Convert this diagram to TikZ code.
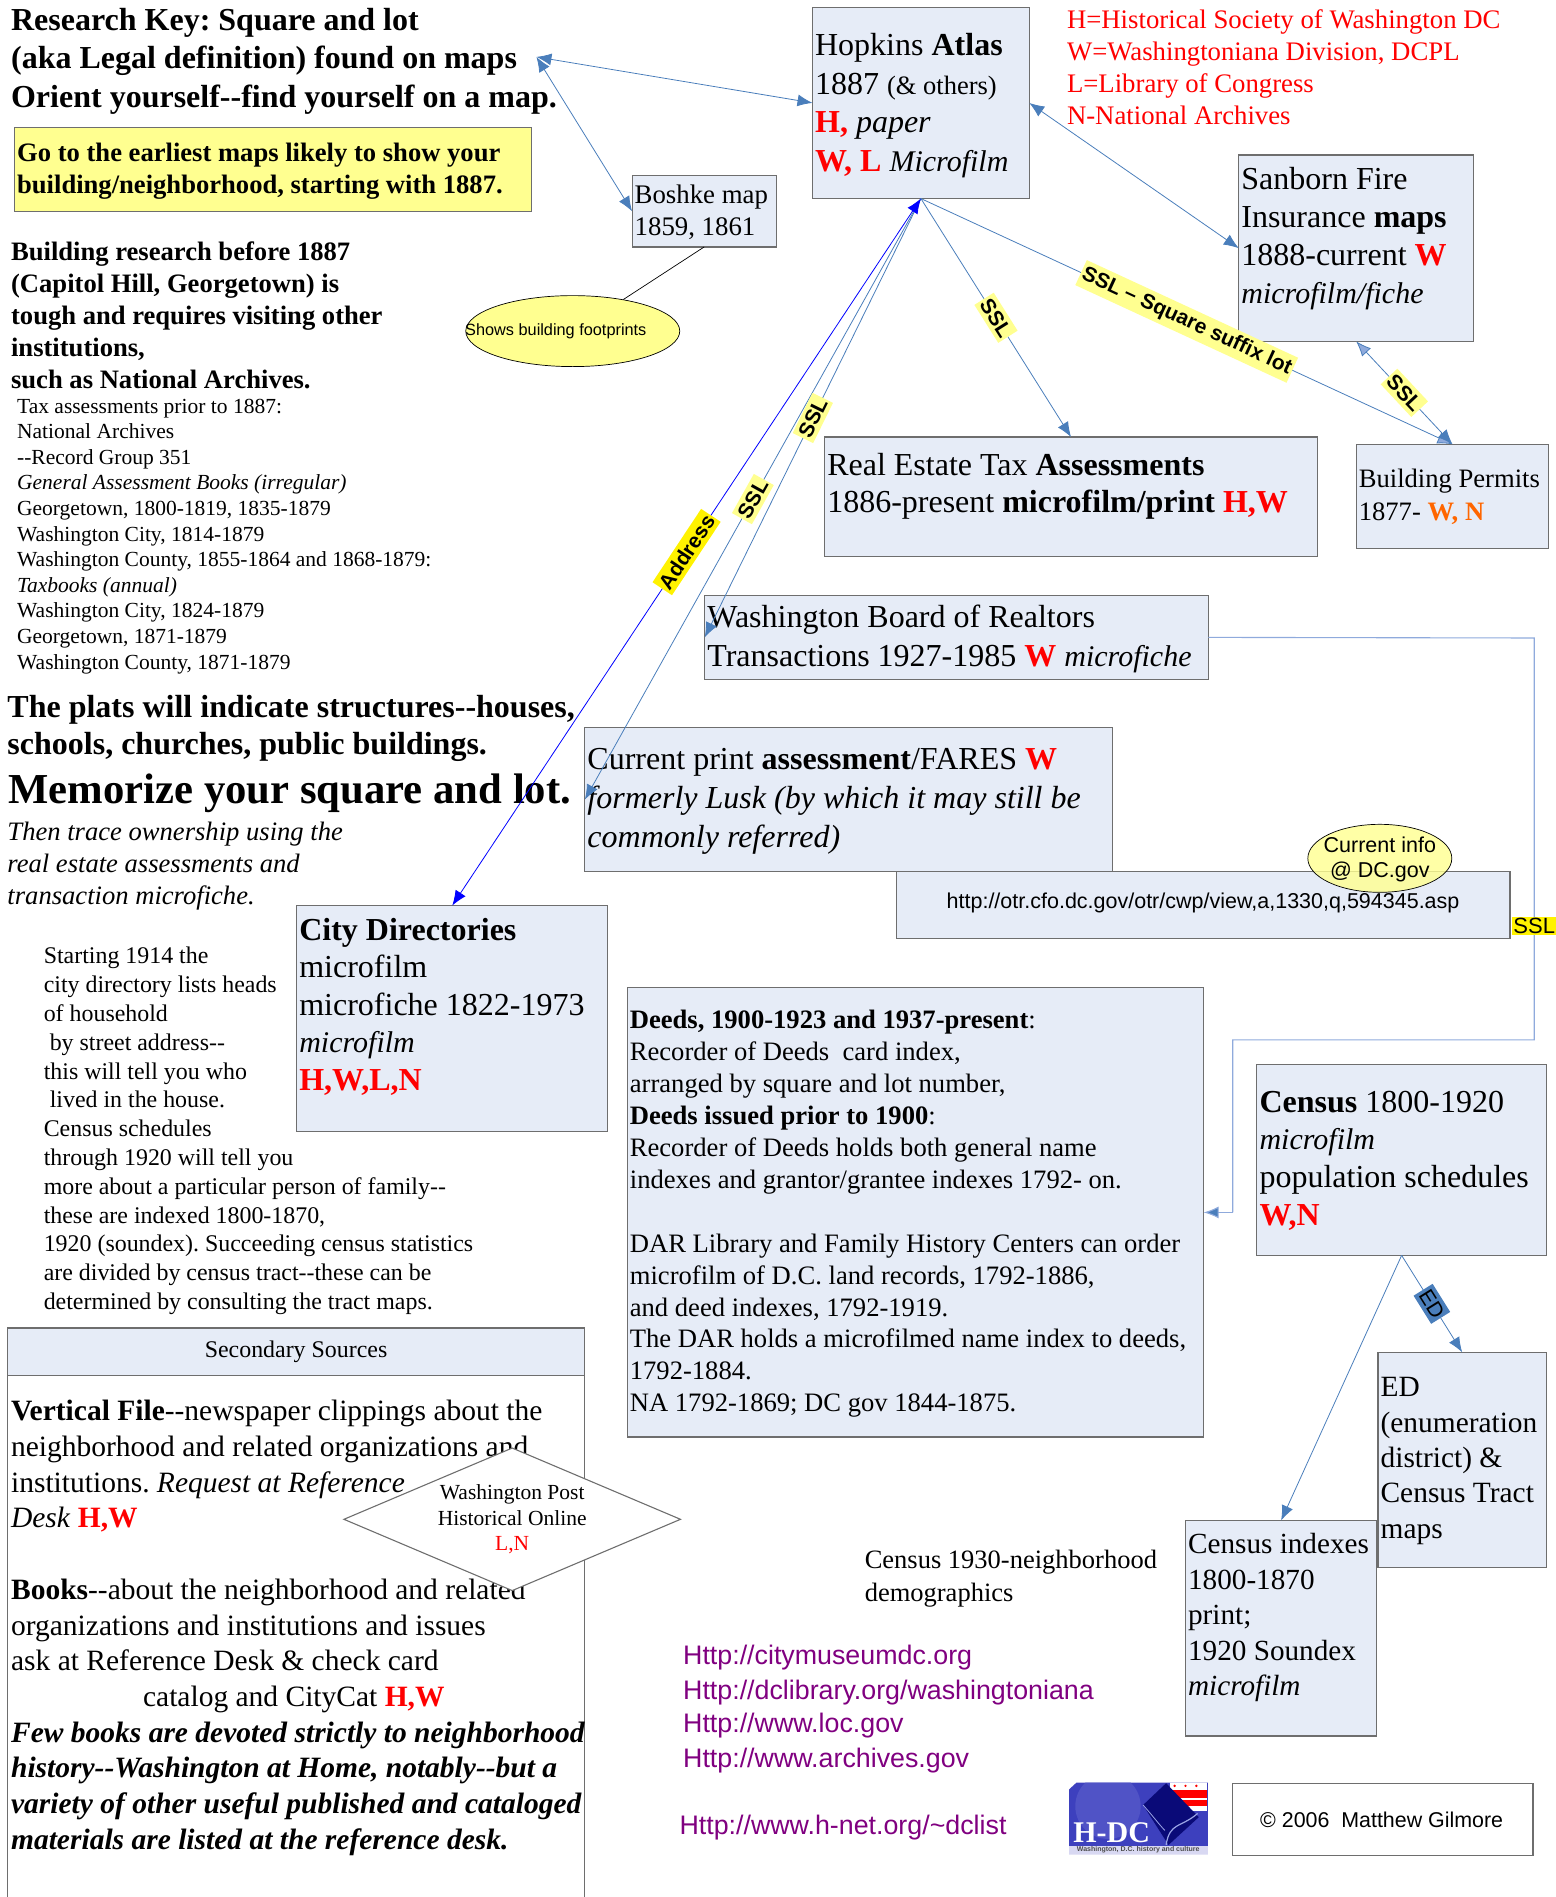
\documentclass[tikz,border=0pt]{standalone}
\usepackage{fontspec}
\setmainfont{Liberation Serif}
\setsansfont{Liberation Sans}
\usetikzlibrary{arrows.meta,fit,shapes.geometric}
\definecolor{boxfill}{HTML}{E6ECF7}
\definecolor{boxline}{HTML}{6E6E6E}
\definecolor{conn}{HTML}{4A7EBB}
\definecolor{connlt}{HTML}{8FAADC}
\definecolor{hatch}{HTML}{FFFF90}
\definecolor{orng}{HTML}{FF6600}
\definecolor{purp}{HTML}{800080}
\definecolor{lga}{HTML}{3D40BE}
\definecolor{lgb}{HTML}{5053C6}
\definecolor{lgc}{HTML}{0A0A78}
\definecolor{lgd}{HTML}{9AA4E6}
\definecolor{lge}{HTML}{D8D8F2}
\newcommand\rd[1]{\textcolor{red}{\textbf{#1}}}
\newcommand\og[1]{\textcolor{orng}{\textbf{#1}}}
\newcommand\itf[1]{{\fontsize{30}{30}\selectfont\textit{#1}}}
\frenchspacing
\tikzset{
 tb/.style n args={2}{font=\fontsize{#1}{#2}\selectfont,anchor=north west,inner sep=0pt,align=left,yshift=0.32*#2 pt,execute at begin node=\strut},
 bx/.style={draw=boxline,line width=1.1pt,fill=boxfill,inner sep=0pt,outer sep=0pt,rectangle},
 big/.tip={Latex[length=15pt,width=12pt,fill=conn]},
 lite/.tip={Latex[length=15pt,width=12pt,fill=connlt]},
 cn/.style={draw=conn,line width=0.8pt,big-big},
 cnb/.style={draw=blue,line width=0.8pt,{Latex[length=15pt,width=12pt,fill=blue]}-{Latex[length=15pt,width=12pt,fill=blue]}},
 lab/.style={fill=hatch,font=\fontsize{21}{23}\selectfont\sffamily\bfseries,inner xsep=2pt,inner ysep=4pt,sloped,midway},
 ell/.style={ellipse,draw=black,line width=0.7pt,inner sep=0pt,fill=hatch},
 lnk/.style={font=\fontsize{26.8}{30}\selectfont\sffamily,text=purp,anchor=west,inner sep=0pt},
}
\begin{document}
\begin{tikzpicture}[x=1.2109pt,y=-1.2106pt]
\useasboundingbox (0,0) rectangle (1285,1567);
% ---- boxes
\node[bx,fit={(671,6)(850,164)}] (hop) {};
\node[bx,fit={(522,145)(641,204)}] (bos) {};
\node[bx,fit={(1023,128)(1217,282)}] (san) {};
\node[bx,fit={(681,361)(1088,460)}] (res) {};
\node[bx,fit={(1120,367)(1279,453)}] (per) {};
\node[bx,fit={(582,492)(998,561)}] (wbr) {};
\node[bx,fit={(483,601)(919,720)}] (cur) {};
\node[bx,fit={(740,720)(1247,775)}] (url) {};
\node[bx,fit={(245,748)(502,935)}] (cty) {};
\node[bx,fit={(518,816)(994,1187)}] (dee) {};
\node[bx,fit={(1038,879)(1277,1037)}] (cen) {};
\node[bx,fit={(1138,1117)(1277,1295)}] (edb) {};
\node[bx,fit={(979,1256)(1137,1434)}] (idx) {};
\node[bx,fill=hatch,fit={(12,105)(439,175)}] (goe) {};
\node[bx,fill=boxfill,fit={(6,1097)(483,1136)}] (sec) {};
\node[bx,fill=white,fit={(1018,1473)(1266,1533)}] (cop) {};
\draw[boxline,line width=1.1pt] (sec.south west) -- (6,1567);
\draw[boxline,line width=1.1pt] (sec.south east) -- (483,1567);
% ---- left text
\node[tb={32}{38.2},font=\fontsize{32}{38.2}\selectfont\bfseries] (t1) at (9,17) {Research Key: Square and lot\\(aka Legal definition) found on maps\\Orient yourself-{}-find yourself on a map.};
\node[tb={26.6}{32},font=\fontsize{26.6}{32}\selectfont\bfseries] (t2) at (14,126.5) {Go to the earliest maps likely to show your\\building/neighborhood, starting with 1887.};
\node[tb={26.6}{32},font=\fontsize{26.6}{32}\selectfont\bfseries] (t3) at (9,208) {Building research before 1887\\(Capitol Hill, Georgetown) is\\tough and requires visiting other\\institutions,\\such as National Archives.};
\node[tb={21.5}{25.6}] (t4) at (14,336) {Tax assessments prior to 1887:\\National Archives\\-{}-Record Group 351\\\textit{General Assessment Books (irregular)}\\Georgetown, 1800-1819, 1835-1879\\Washington City, 1814-1879\\Washington County, 1855-1864 and 1868-1879:\\\textit{Taxbooks (annual)}\\Washington City, 1824-1879\\Georgetown, 1871-1879\\Washington County, 1871-1879};
\node[tb={32}{37.6},font=\fontsize{32}{37.6}\selectfont\bfseries] (t5) at (6,584) {The plats will indicate structures-{}-houses,\\schools, churches, public buildings.};
\node[tb={42.7}{46},font=\fontsize{42.7}{46}\selectfont\bfseries] (t6) at (7,649.5) {Memorize your square and lot.};
\node[tb={26.6}{32},font=\fontsize{26.6}{32}\selectfont\itshape] (t7) at (6,687) {Then trace ownership using the\\real estate assessments and\\transaction microfiche.};
\node[tb={23.9}{28.8}] (t8) at (36,790) {Starting 1914 the\\city directory lists heads\\of household\\\hspace*{6pt}by street address-{}-\\this will tell you who\\\hspace*{6pt}lived in the house.\\Census schedules\\through 1920 will tell you\\more about a particular person of family-{}-\\these are indexed 1800-1870,\\1920 (soundex). Succeeding census statistics\\are divided by census tract-{}-these can be\\determined by consulting the tract maps.};
\node[font=\fontsize{23.9}{29}\selectfont,inner sep=0pt] (t9) at (244.5,1116.5) {Secondary Sources};
\node[tb={29.5}{35.7}] (t10) at (9,1166) {\textbf{Vertical File}-{}-newspaper clippings about the\\neighborhood and related organizations and\\institutions. \textit{Request at Reference}\\\textit{Desk} \rd{H,W}\\\strut\\\textbf{Books}-{}-about the neighborhood and related\\organizations and institutions and issues\\ask at Reference Desk \& check card\\\hspace*{132pt}catalog and CityCat \rd{H,W}\\\textbf{\textit{Few books are devoted strictly to neighborhood}}\\\textbf{\textit{history-{}-Washington at Home, notably-{}-but a}}\\\textbf{\textit{variety of other useful published and cataloged}}\\\textbf{\textit{materials are listed at the reference desk.}}};
\node[diamond,draw=boxline,line width=1.1pt,fill=white,inner sep=0pt,minimum width=337pt,minimum height=143pt] (dia) at (423,1255) {};
\node[font=\fontsize{21.5}{25.4}\selectfont,align=center,inner sep=0pt] (diat) at (423,1255) {Washington Post\\Historical Online\\\textcolor{red}{L,N}};
% ---- ellipses
\node[ell,minimum width=214pt,minimum height=71pt] (foo) at (473,273.5) {};
\node[font=\fontsize{16.3}{19}\selectfont\sffamily,inner sep=0pt] (foot) at (459,273.5) {Shows building footprints};
\node[ell,fill opacity=0.8,minimum width=144pt,minimum height=68pt] (inf) at (1139.5,709) {};
\node[font=\fontsize{21.5}{25.5}\selectfont\sffamily,align=center,inner sep=0pt] (inft) at (1139.5,710) {Current info\\@ DC.gov};
% ---- box text
\node[tb={32}{38.6}] (h1) at (673,37.5) {Hopkins \textbf{Atlas}\\1887 {\fontsize{26.5}{30}\selectfont(\& others)}\\\rd{H,} \textit{paper}\\\rd{W, L} \itf{Microfilm}};
\node[tb={26.8}{31.6}] (b1) at (524,161) {Boshke map\\1859, 1861};
\node[tb={32}{38}] (s1) at (1025,148) {Sanborn Fire\\Insurance \textbf{maps}\\1888-current \rd{W}\\\itf{microfilm/fiche}};
\node[tb={32}{37.6}] (r1) at (683,384) {Real Estate Tax \textbf{Assessments}\\1886-present \textbf{microfilm/print} \rd{H,W}};
\node[tb={26.6}{32.5}] (p1) at (1122,396) {Building Permits\\1877- \og{W, N}};
\node[tb={32}{38.6}] (w1) at (584,510) {Washington Board of Realtors\\Transactions 1927-1985 \rd{W} \itf{microfiche}};
\node[tb={32}{38.7}] (c1) at (485,628.5) {Current print \textbf{assessment}/FARES \rd{W}\\\textit{formerly Lusk (by which it may still be}\\\textit{commonly referred)}};
\node[font=\fontsize{21.5}{25}\selectfont\sffamily,inner sep=0pt] (u1) at (993.5,746) {http://otr.cfo.dc.gov/otr/cwp/view,a,1330,q,594345.asp};
\node[tb={32}{37.6}] (d1) at (247,768) {\textbf{City Directories}\\microfilm\\microfiche 1822-1973\\\itf{microfilm}\\\rd{H,W,L,N}};
\node[tb={26.6}{31.9}] (d2) at (520,843) {\textbf{Deeds, 1900-1923 and 1937-present}:\\Recorder of Deeds\ \ card index,\\arranged by square and lot number,\\\textbf{Deeds issued prior to 1900}:\\Recorder of Deeds holds both general name\\indexes and grantor/grantee indexes 1792- on.\\\strut\\DAR Library and Family History Centers can order\\microfilm of D.C. land records, 1792-1886,\\and deed indexes, 1792-1919.\\The DAR holds a microfilmed name index to deeds,\\1792-1884.\\NA 1792-1869; DC gov 1844-1875.};
\node[tb={32}{37.6}] (c2) at (1040,911) {\textbf{Census} 1800-1920\\\itf{microfilm}\\population schedules\\\rd{W,N}};
\node[tb={29.4}{35.4}] (e1) at (1140,1147) {ED\\(enumeration\\district) \&\\Census Tract\\maps};
\node[tb={29.2}{35.4}] (i1) at (981,1276) {Census indexes\\1800-1870\\print;\\1920 Soundex\\\textit{microfilm}};
\node[tb={26.5}{32.6}] (k1) at (714,1289) {Census 1930-neighborhood\\demographics};
\node[tb={26.75}{32},text=red] (leg) at (881,16) {H=Historical Society of Washington DC\\W=Washingtoniana Division, DCPL\\L=Library of Congress\\N-National Archives};
% ---- links
\node[lnk] (l1) at (564,1369) {Http://citymuseumdc.org};
\node[lnk] (l2) at (564,1398) {Http://dclibrary.org/washingtoniana};
\node[lnk] (l3) at (564,1425) {Http://www.loc.gov};
\node[lnk] (l4) at (564,1454) {Http://www.archives.gov};
\node[lnk] (l5) at (561,1510) {Http://www.h-net.org/\textasciitilde dclist};
\node[font=\fontsize{21.4}{27}\selectfont\sffamily,inner sep=0pt] (cpt) at (1141,1503) {\textcopyright\ 2006\ \ Matthew Gilmore};
% ---- logo
\begin{scope}
\clip (883,1531.5) -- (883,1478) -- (889,1472.5) -- (998,1472.5) -- (998,1531.5) -- cycle;
\fill[lga] (883,1472) rectangle (998,1532);
\fill[lgb] (915,1492) circle (27);
\fill[white] (966,1472) rectangle (997,1496);
\fill[red] (966,1478.5) rectangle (997,1485.4);
\fill[red] (966,1487) rectangle (997,1491.5);
\fill[red] (970,1475.2) circle (1.1) (979,1475.2) circle (1.1) (988,1475.2) circle (1.1);
\fill[lgc] (963,1473) -- (990,1501) -- (965,1524) -- (944,1491) -- cycle;
\draw[lgd,line width=1.2pt] (989,1498) .. controls (975,1510) and (966,1505) .. (963,1524);
\draw[lgd,line width=0.8pt] (944,1491) .. controls (952,1500) and (958,1508) .. (962,1512);
\fill[lge] (883,1525) rectangle (998,1532);
\end{scope}
\node[font=\fontsize{30}{32}\selectfont\bfseries,text=white,inner sep=0pt] (hdc) at (918,1514) {H-DC};
\node[font=\fontsize{7}{9}\selectfont\sffamily\bfseries,inner sep=0pt,text=black!70] (hdc2) at (940,1528.3) {Washington, D.C. history and culture};
% ---- connectors
\coordinate (key) at (443,47);
\draw[cn] (key) -- (hop.west);
\draw[cn] (key) -- (bos.west);
\draw[black,line width=0.7pt] (bos.south) -- (foo.32);
\draw[cn] (hop.east) -- (san.west);
\draw[cn,-big] (hop.south) -- node[lab] {SSL} (cur.west);
\draw[cn,-big] (hop.south) -- node[lab] {SSL} (wbr.west);
\draw[cnb] (hop.south) -- node[lab,fill=yellow] {Address} (cty.north);
\draw[cn,-big] (hop.south) -- node[lab] {SSL} (res.north);
\draw[cn,-lite] (hop.south) -- node[lab] {SSL -- Square suffix lot} (per.north);
\draw[cn,lite-big] (san.south) -- node[lab] {SSL} (per.north);
\coordinate (e1a) at (1267,527);
\coordinate (e1b) at (1267,859);
\coordinate (e1c) at (1018,859);
\coordinate (e1d) at (1018,1001.5);
\draw[draw=connlt,line width=1.1pt] (wbr.east) -- (e1a) -- node[pos=0.717,fill=yellow,font=\fontsize{22}{24}\selectfont\sffamily,inner xsep=1pt,inner ysep=1.5pt] (ssl) {SSL} (e1b) -- (e1c) -- (e1d);
\draw[draw=connlt,line width=1.1pt,-big] (e1d) -- (dee.east);
\draw[cn,-big] (cen.south) -- node[lab,fill=conn,font=\fontsize{21}{23}\selectfont\sffamily] {ED} (edb.north);
\draw[cn,-big] (cen.south) -- (idx.north);
\end{tikzpicture}
\end{document}
